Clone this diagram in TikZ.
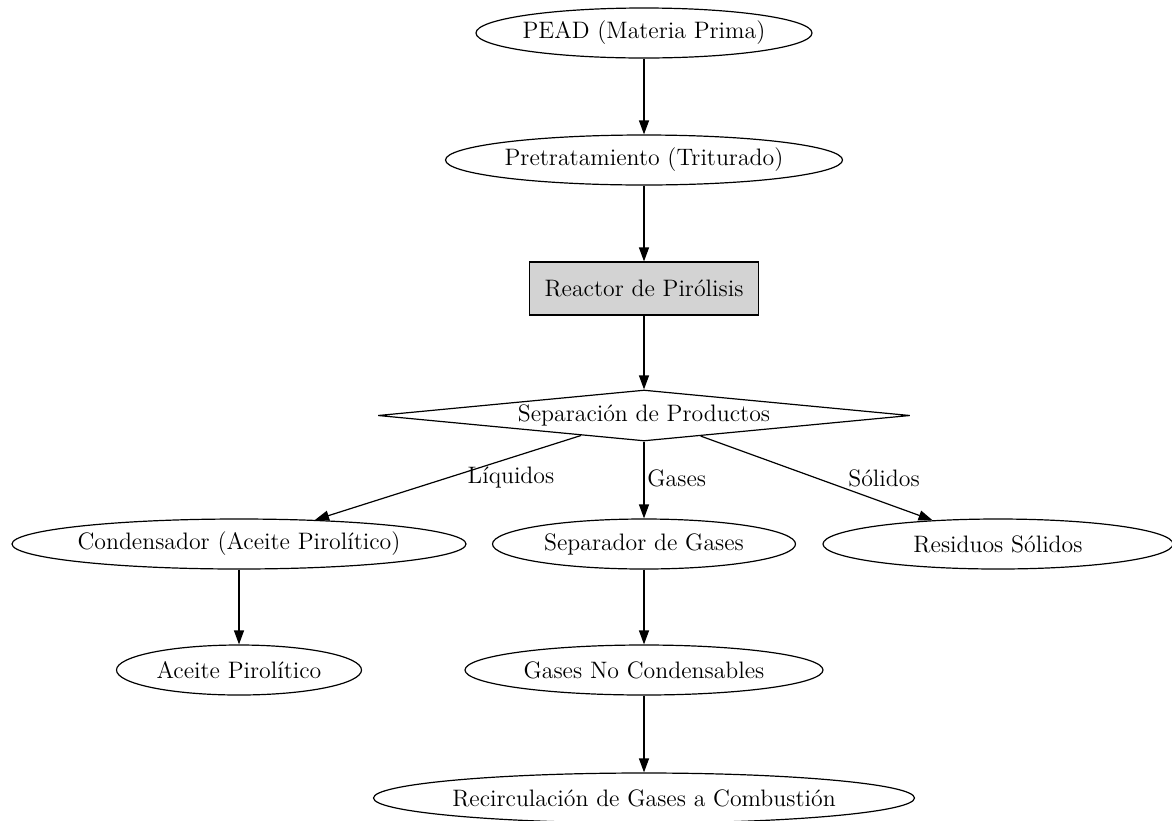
\documentclass[tikz,border=0pt]{standalone}
\usetikzlibrary{shapes.geometric,arrows.meta}
\definecolor{boxgray}{HTML}{D3D3D3}
\begin{document}
\begin{tikzpicture}[x=0.5pt,y=-0.5pt,
 every node/.style={font=\fontsize{11.9}{14}\selectfont},
 ell/.style={draw, ellipse, inner sep=0pt, line width=0.6pt, minimum height=25pt},
 arr/.style={-{Triangle[length=7pt,width=5pt]}, line width=0.6pt},
 lbl/.style={inner sep=1pt}]
\useasboundingbox (0,0) rectangle (1172,820);
\node[ell, minimum width=168pt] (pead) at (644,33) {\makebox[0pt]{PEAD (Materia Prima)}};
\node[ell, minimum width=198.5pt] (pre) at (644,160) {\makebox[0pt]{Pretratamiento (Triturado)}};
\node[draw, fill=boxgray, line width=0.6pt, minimum width=114.5pt, minimum height=26.5pt, inner sep=0pt] (reac) at (644,288.5) {\makebox[0pt]{Reactor de Pirólisis}};
\node[draw, diamond, line width=0.6pt, inner sep=0pt, minimum width=266pt, minimum height=25.5pt] (sep) at (644,415.5) {\makebox[0pt]{Separación de Productos}};
\node[ell, minimum width=227pt] (cond) at (239,544) {\makebox[0pt]{Condensador (Aceite Pirolítico)}};
\node[ell, minimum width=151.5pt] (sgas) at (644,544) {\makebox[0pt]{Separador de Gases}};
\node[ell, minimum width=175pt] (res) at (998,544) {\makebox[0pt]{Residuos Sólidos}};
\node[ell, minimum width=122.5pt] (aceite) at (239,670) {\makebox[0pt]{Aceite Pirolítico}};
\node[ell, minimum width=179pt] (gnc) at (644,670) {\makebox[0pt]{Gases No Condensables}};
\node[ell, minimum width=270.5pt] (rec) at (644,798) {\makebox[0pt]{Recirculación de Gases a Combustión}};
\draw[arr] (pead) -- (pre);
\draw[arr] (pre) -- (reac);
\draw[arr] (reac) -- (sep);
\draw[arr] (sep) -- (cond);
\draw[arr] (sep) -- (sgas);
\draw[arr] (sep) -- (res);
\draw[arr] (cond) -- (aceite);
\draw[arr] (sgas) -- (gnc);
\draw[arr] (gnc) -- (rec);
\node[lbl] (lliq) at (511,478) {Líquidos};
\node[lbl, anchor=west] (lgas) at (645,478) {Gases};
\node[lbl] (lsol) at (884,478) {Sólidos};
\end{tikzpicture}
\end{document}
